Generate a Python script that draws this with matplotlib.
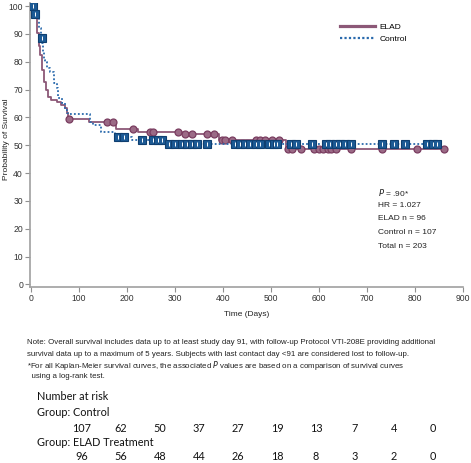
import matplotlib
matplotlib.use("Agg")
import matplotlib.pyplot as plt
from matplotlib.lines import Line2D
import numpy as np

plt.rcParams['font.family'] = ['Liberation Sans', 'DejaVu Sans']

# Kaplan-Meier steps (days, % surviving)
elad_t = [0, 5, 12, 16, 19, 22, 28, 31, 36, 42, 54, 63, 70, 75, 78, 121, 178, 224, 314, 391, 532, 861]
elad_s = [100, 97, 90.3, 85.5, 82.5, 77, 72.9, 69.9, 67.5, 66.3, 65.5, 64.5, 63.3, 61.5, 59.4, 58.5,
          55.9, 54.8, 54.2, 52.0, 48.6, 48.6]
elad_cens = [80, 158, 170, 212, 248, 254, 307, 322, 336, 367, 381, 398, 405, 419, 468, 478, 488,
             502, 516, 535, 544, 562, 589, 600, 609, 618, 626, 635, 666, 732, 804, 861]

ctrl_t = [0, 6, 16, 20, 24, 26, 28, 29, 33, 40, 47, 54, 57, 64, 71, 75, 78, 123, 130, 145, 175, 210, 283, 847]
ctrl_s = [100, 97.2, 92, 88.7, 86.8, 83.5, 80.7, 80.0, 77.7, 76.5, 72.3, 70.5, 66.9, 65.1, 62.7, 61.5,
          61.2, 58.5, 57.3, 54.7, 53.1, 52.0, 50.5, 50.5]
ctrl_cens = [4, 9, 22, 182, 193, 231, 254, 264, 273, 287, 301, 315, 325, 336, 346, 367, 426, 436, 447,
             457, 468, 478, 495, 506, 513, 541, 553, 586, 614, 624, 635, 645, 655, 667, 732, 756, 779,
             826, 837, 847]

risk_ctrl = [107, 62, 50, 37, 27, 19, 13, 7, 4, 0]
risk_elad = [96, 56, 48, 44, 26, 18, 8, 3, 2, 0]

stats = ["$\\it{P}$ = .90*", "HR = 1.027", "ELAD n = 96", "Control n = 107", "Total n = 203"]

elad_col = '#8c5877'
ctrl_col = '#2a6aad'
circ_face = '#9b6a86'
circ_edge = '#7a3d60'
sq_face = '#1c5a95'
sq_edge = '#0f3f70'


def km_level(t, s, times):
    t = np.asarray(t)
    s = np.asarray(s)
    idx = np.searchsorted(t, times, side='right') - 1
    return s[idx]


fig = plt.figure(figsize=(4.71, 4.63), dpi=100)
ax = fig.add_axes([0.0637, 0.3808, 0.919, 0.612])

ax.step(elad_t, elad_s, where='post', color=elad_col, lw=1.3, zorder=2)
ax.plot(elad_cens, km_level(elad_t, elad_s, elad_cens), 'o', ms=5.0, mfc=circ_face,
        mec=circ_edge, mew=0.9, zorder=3)

ax.step(ctrl_t, ctrl_s, where='post', color=ctrl_col, lw=1.3, ls=(0, (1, 1.2)), zorder=4)
cy = km_level(ctrl_t, ctrl_s, ctrl_cens)
ax.plot(ctrl_cens, cy, 's', ms=5.2, mfc=sq_face, mec=sq_edge, mew=0.8, zorder=5)
ax.plot(ctrl_cens, cy, '|', ms=2.2, mec='white', mew=0.7, zorder=6)

ax.set_xlim(-2, 900)
ax.set_ylim(-0.8, 101)
ax.set_xticks(range(0, 901, 100))
ax.set_yticks(range(0, 101, 10))
for side in ['top', 'right']:
    ax.spines[side].set_visible(False)
for side in ['left', 'bottom']:
    ax.spines[side].set_color('#a0a0a0')
    ax.spines[side].set_linewidth(1.2)
ax.tick_params(direction='out', length=3.5, width=0.8, color='#909090',
               labelsize=6.2, labelcolor='#333333', pad=1.5)
ax.set_xlabel("Time (Days)", fontsize=6.0, color='#222222', labelpad=6)
ax.set_ylabel("Probability of Survival", fontsize=6.0, color='#222222')
ax.yaxis.set_label_coords(-0.046, 0.52)

handles = [Line2D([], [], color=elad_col, lw=2.3),
           Line2D([], [], color=ctrl_col, lw=1.6, ls=(0, (1, 1)))]
fig.legend(handles, ["ELAD", "Control"], loc='upper left', bbox_to_anchor=(336 / 471, 1 - 19 / 463),
           frameon=False, fontsize=6.0, handlelength=4.2, handletextpad=0.5, labelspacing=0.5,
           borderpad=0)

for i, s in enumerate(stats):
    fig.text(378 / 471, 1 - (192 + i * 13.5) / 463, s, fontsize=6.0, color='#222222', va='center')

note = ["Note: Overall survival includes data up to at least study day 91, with follow-up Protocol VTI-208E providing additional",
        "survival data up to a maximum of 5 years. Subjects with last contact day <91 are considered lost to follow-up.",
        "*For all Kaplan-Meier survival curves, the associated $\\it{P}$ values are based on a comparison of survival curves",
        "  using a log-rank test."]
note_y = [342, 354, 366, 377]
for s, y in zip(note, note_y):
    fig.text(27 / 471, 1 - y / 463, s, fontsize=5.65, color='#222222', va='center')

rfont = dict(family=['Lato', 'DejaVu Sans'], fontsize=7.8, color='#111111', va='center')
fig.text(37 / 471, 1 - 396 / 463, "Number at risk", **rfont)
fig.text(37 / 471, 1 - 412 / 463, "Group: Control", **rfont)
fig.text(37 / 471, 1 - 443 / 463, "Group: ELAD Treatment", **rfont)
for i, (a, b) in enumerate(zip(risk_ctrl, risk_elad)):
    x = (82 + i * 39.0) / 471
    fig.text(x, 1 - 428 / 463, str(a), ha='center', **rfont)
    fig.text(x, 1 - 457 / 463, str(b), ha='center', **rfont)

fig.savefig("out.png", dpi=100)
